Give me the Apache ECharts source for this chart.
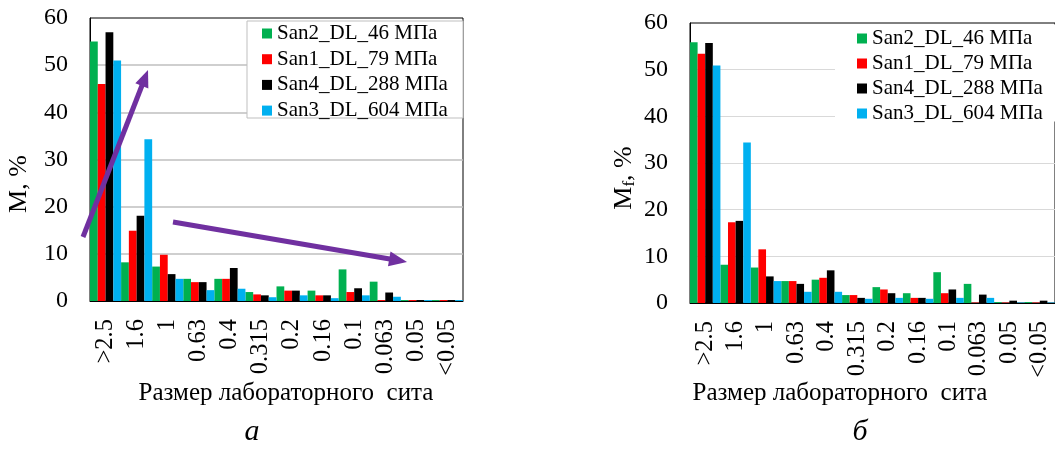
<!DOCTYPE html>
<html>
<head>
<meta charset="utf-8">
<script src="https://cdn.jsdelivr.net/npm/echarts@6/dist/echarts.min.js"></script>
<style>html,body{margin:0;padding:0;background:#fff}#c{width:1055px;height:454px}</style>
</head>
<body>
<div id="c"></div>
<script>
const categories = ['>2.5','1.6','1','0.63','0.4','0.315','0.2','0.16','0.1','0.063','0.05','<0.05'];
const seriesNames = ['San2_DL_46 МПа','San1_DL_79 МПа','San4_DL_288 МПа','San3_DL_604 МПа'];
const colors = ['#00B050','#FF0000','#000000','#00B0F0'];
// panel a
const san2A = [55, 8.2, 7.3, 4.7, 4.7, 1.9, 3.1, 2.2, 6.7, 4.1, 0.2, 0.2];
const san1A = [46, 14.9, 9.8, 4.0, 4.7, 1.4, 2.2, 1.2, 1.9, 0.2, 0.2, 0.2];
const san4A = [57, 18.1, 5.7, 4.0, 7.0, 1.2, 2.2, 1.2, 2.7, 1.8, 0.2, 0.2];
const san3A = [51, 34.3, 4.7, 2.3, 2.6, 0.8, 1.2, 0.6, 1.2, 0.9, 0.2, 0.2];
// panel б
const san2B = [55.9, 8.2, 7.6, 4.7, 5.0, 1.7, 3.4, 2.1, 6.6, 4.1, 0.2, 0.2];
const san1B = [53.4, 17.3, 11.5, 4.7, 5.4, 1.7, 2.9, 1.1, 2.1, 0.1, 0.1, 0.1];
const san4B = [55.7, 17.6, 5.7, 4.1, 7.0, 1.1, 2.1, 1.1, 2.9, 1.8, 0.5, 0.5];
const san3B = [50.9, 34.4, 4.7, 2.4, 2.4, 0.9, 1.1, 0.9, 1.1, 1.1, 0.1, 0.1];
const yTicks = {min: 0, max: 60, interval: 10};

const FONT = 'Liberation Serif';
const chart = echarts.init(document.getElementById('c'), null, {renderer: 'canvas'});

function xAxisCfg(g) {
  return {
    gridIndex: g, type: 'category', data: categories,
    axisLine: {lineStyle: {color: '#000', width: 1}},
    axisTick: {show: false},
    axisLabel: {rotate: 90, interval: 0, fontSize: 24.5, fontFamily: FONT, color: '#000', margin: 18}
  };
}
function yAxisCfg(g, gridColor, gw) {
  return {
    gridIndex: g, type: 'value', min: yTicks.min, max: yTicks.max, interval: yTicks.interval,
    axisLine: {show: true, lineStyle: {color: '#000', width: 1}},
    axisTick: {show: false},
    axisLabel: {fontSize: 24, fontFamily: FONT, color: '#000', margin: 22},
    splitLine: {show: true, showMaxLine: false, lineStyle: {color: gridColor, width: gw}}
  };
}
const dataA = [san2A, san1A, san4A, san3A];
const dataB = [san2B, san1B, san4B, san3B];
const series = [];
[dataA, dataB].forEach((set, g) => {
  set.forEach((d, i) => {
    series.push({
      type: 'bar', name: seriesNames[i], xAxisIndex: g, yAxisIndex: g, data: d,
      barGap: '0%', barCategoryGap: '0%',
      itemStyle: {color: colors[i]}
    });
  });
});

function arrow(x1, y1, x2, y2, headLen, headW) {
  const dx = x2 - x1, dy = y2 - y1, L = Math.hypot(dx, dy);
  const ux = dx / L, uy = dy / L;
  const bx = x2 - ux * headLen, by = y2 - uy * headLen;
  const px = -uy, py = ux;
  return [
    {type: 'line', z: 50, shape: {x1: x1, y1: y1, x2: bx + ux * 2, y2: by + uy * 2}, style: {stroke: '#7030A0', lineWidth: 5}},
    {type: 'polygon', z: 50, shape: {points: [[x2, y2], [bx + px * headW / 2, by + py * headW / 2], [bx - px * headW / 2, by - py * headW / 2]]}, style: {fill: '#7030A0'}}
  ];
}

const legendCommon = {
  orient: 'vertical', icon: 'rect', itemWidth: 10, itemHeight: 10,
  textStyle: {fontFamily: FONT, fontSize: 21, color: '#000', lineHeight: 20},
  data: seriesNames, selectedMode: false, z: 20
};

const graphic = [
  {type: 'rect', z: 10, shape: {x: 247, y: 21, width: 216, height: 97}, style: {fill: '#fff', stroke: '#bfbfbf', lineWidth: 1}},
  {type: 'rect', z: 10, shape: {x: 835, y: 24.5, width: 225, height: 97}, style: {fill: '#fff'}},
  {type: 'text', z: 30, x: 286, y: 393, style: {text: 'Размер лабораторного  сита', fontFamily: FONT, fontSize: 25, fill: '#000', align: 'center', verticalAlign: 'middle'}},
  {type: 'text', z: 30, x: 840, y: 393, style: {text: 'Размер лабораторного  сита', fontFamily: FONT, fontSize: 25, fill: '#000', align: 'center', verticalAlign: 'middle'}},
  {type: 'text', z: 30, x: 252, y: 432, style: {text: 'а', fontFamily: FONT, fontStyle: 'italic', fontSize: 30, fill: '#000', align: 'center', verticalAlign: 'middle'}},
  {type: 'text', z: 30, x: 860, y: 432, style: {text: 'б', fontFamily: FONT, fontStyle: 'italic', fontSize: 30, fill: '#000', align: 'center', verticalAlign: 'middle'}},
  {type: 'text', z: 30, x: 19, y: 184, rotation: Math.PI / 2, style: {text: 'M, %', fontFamily: FONT, fontSize: 26, fill: '#000', align: 'center', verticalAlign: 'middle'}},
  {type: 'text', z: 30, x: 624, y: 178, rotation: Math.PI / 2, style: {
    text: '{a|M}{b|f}{a|, %}', fill: '#000', align: 'center', verticalAlign: 'middle',
    rich: {a: {fontFamily: FONT, fontSize: 26, fill: '#000'}, b: {fontFamily: FONT, fontSize: 17, fill: '#000', padding: [12, 0, 0, 0]}}
  }}
].concat(arrow(83, 237, 148, 70, 17, 14)).concat(arrow(173, 222, 407, 262, 18, 15));

const option = {
  backgroundColor: '#fff',
  animation: false,
  textStyle: {fontFamily: FONT},
  grid: [
    {left: 90, top: 18, width: 373, height: 283, show: true, borderColor: '#000', borderWidth: 1, backgroundColor: 'transparent'},
    {left: 690, top: 23, width: 368, height: 280, show: true, borderColor: '#000', borderWidth: 1, backgroundColor: 'transparent'}
  ],
  xAxis: [xAxisCfg(0), xAxisCfg(1)],
  yAxis: [yAxisCfg(0, '#bfbfbf', 1.5), yAxisCfg(1, '#d9d9d9', 1)],
  legend: [
    Object.assign({}, legendCommon, {left: 247, top: 21, padding: [2, 5, 2, 15], itemGap: 4.7}),
    Object.assign({}, legendCommon, {left: 835, top: 24, padding: [4, 5, 4, 22], itemGap: 4})
  ],
  series: series,
  graphic: graphic
};
chart.setOption(option);
</script>
</body>
</html>
